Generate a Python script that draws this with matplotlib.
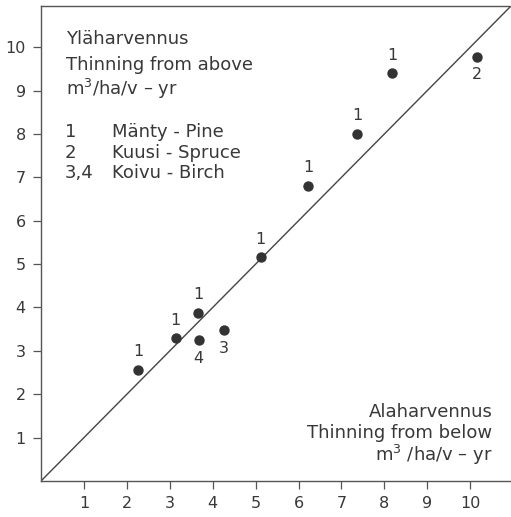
import numpy as np
import matplotlib.pyplot as plt

# thinning from below (x) vs thinning from above (y), m3/ha/yr
x_below = [2.27, 3.14, 3.66, 3.67, 4.26, 5.12, 6.23, 7.36, 8.18, 10.16]
y_above = [2.57, 3.29, 3.88, 3.25, 3.47, 5.16, 6.80, 8.00, 9.40, 9.78]
labels = ['1', '1', '1', '4', '3', '1', '1', '1', '1', '2']
label_below = [False, False, False, True, True, False, False, False, False, True]

ticks = [1, 2, 3, 4, 5, 6, 7, 8, 9, 10]
legend_nums = ['1', '2', '3,4']
legend_names = ['Mänty - Pine', 'Kuusi - Spruce', 'Koivu - Birch']

ink = '#383838'
plt.rcParams['font.family'] = 'DejaVu Sans'
plt.rcParams['text.color'] = ink

fig = plt.figure(figsize=(5.11, 5.17), dpi=100)
ax = fig.add_axes([0.0802, 0.0696, 0.9198, 0.9188])
lim = 10.95
ax.set_xlim(0, lim)
ax.set_ylim(0, lim)

# 1:1 line
ax.plot([0, lim], [0, lim], color='#444444', lw=1.0)

ax.scatter(x_below, y_above, s=42, color='#333333', zorder=3)
for xv, yv, lab, below in zip(x_below, y_above, labels, label_below):
    dy = -13 if below else 13
    ax.annotate(lab, (xv, yv), xytext=(0, dy), textcoords='offset points',
                ha='center', va='center', fontsize=11.5, color=ink)

ax.set_xticks(ticks)
ax.set_yticks(ticks)
ax.tick_params(direction='out', length=6, width=0.9, colors='#555555',
               labelcolor=ink, labelsize=11.5, pad=5)
ax.spines['right'].set_visible(False)
for side in ['left', 'bottom', 'top']:
    ax.spines[side].set_color('#555555')
    ax.spines[side].set_linewidth(1.0)

# upper left title block
fs = 13
ax.text(0.58, 10.18, 'Yläharvennus', fontsize=fs, va='center', ha='left')
ax.text(0.58, 9.60, 'Thinning from above', fontsize=fs, va='center', ha='left')
ax.text(0.58, 9.03, 'm$^{3}$/ha/v – yr', fontsize=fs, va='center', ha='left')
for i, (num, name) in enumerate(zip(legend_nums, legend_names)):
    yy = 8.04 - i * 0.47
    ax.text(0.56, yy, num, fontsize=fs, va='center', ha='left')
    ax.text(1.65, yy, name, fontsize=fs, va='center', ha='left')

# lower right axis title block
ax.text(10.52, 1.59, 'Alaharvennus', fontsize=fs, va='center', ha='right')
ax.text(10.52, 1.10, 'Thinning from below', fontsize=fs, va='center', ha='right')
ax.text(10.52, 0.60, 'm$^{3}$ /ha/v – yr', fontsize=fs, va='center', ha='right')

fig.savefig('out.png', dpi=100)
